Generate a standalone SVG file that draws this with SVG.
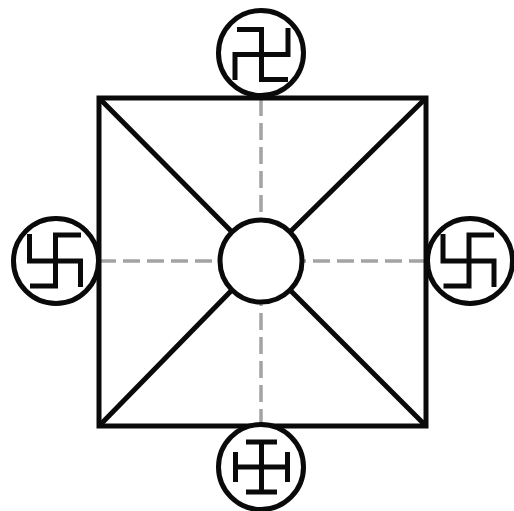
<svg xmlns="http://www.w3.org/2000/svg" width="514" height="511" viewBox="0 0 514 511">
<style>
.k{fill:none;stroke:#0a0a0a;stroke-width:5}
.c{fill:#fff;stroke:#0a0a0a;stroke-width:5}
.s{fill:none;stroke:#0a0a0a;stroke-width:5;stroke-linecap:butt;stroke-linejoin:miter}
.d{fill:none;stroke:#a3a3a3;stroke-width:3.5;stroke-dasharray:17 7}
</style>
<rect width="514" height="511" fill="#fff"/>
<g id="connectors">
<path class="d" d="M261 99V219"/>
<path class="d" d="M261 426V303"/>
<path class="d" d="M99 261H219"/>
<path class="d" d="M426 261H303"/>
<path class="k" d="M99 98L231 231M426 98L291 231M99 426L231 291M426 426L291 291"/>
<rect class="k" x="99" y="98" width="327" height="328"/>
</g>
<g id="node-top"><circle class="c" cx="261" cy="53" r="42.5"/><path class="s" d="M237 29.500H261.500V79.500H288M235 80V54.500H288V28"/></g>
<g id="node-left"><circle class="c" cx="56" cy="261" r="42.500"/><path class="s" d="M81 235H55.500V286H30M29.500 234V261H80.500V287"/></g>
<g id="node-right"><circle class="c" cx="470" cy="261" r="42.500"/><path class="s" d="M494 235H469V286H443.500M443 234V261H494V287"/></g>
<g id="node-bottom"><circle class="c" cx="261" cy="467" r="42.500"/><path class="s" d="M246 442H277M261.500 442V492M246 492H277M235.500 452V482M287.500 452V482M235.500 467H287.500"/></g>
<g id="node-center"><circle class="c" cx="261" cy="261" r="41"/></g>
</svg>
